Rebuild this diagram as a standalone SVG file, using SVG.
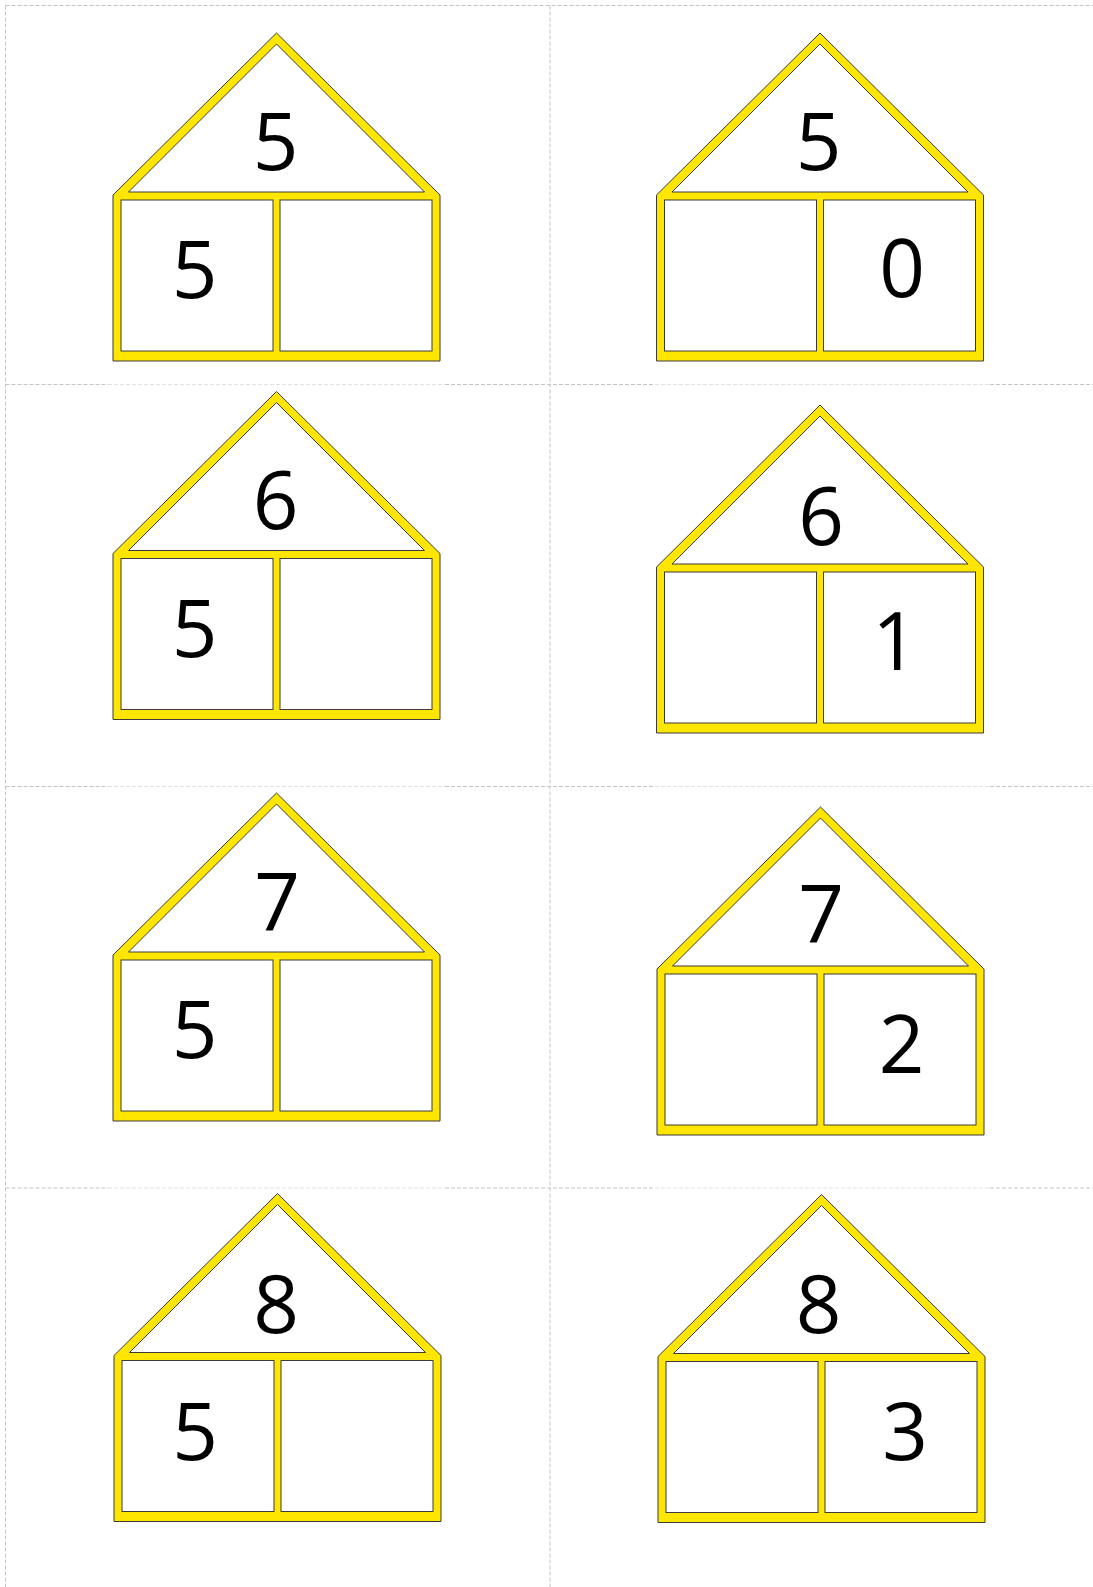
<svg xmlns="http://www.w3.org/2000/svg" xmlns:xlink="http://www.w3.org/1999/xlink" width="1093" height="1587" viewBox="0 0 1093 1587">
<style>
.grid{stroke:#c4c4c4;stroke-width:1;stroke-dasharray:4 2;fill:none}
.gridl{stroke:#e2e2e2;stroke-width:1;stroke-dasharray:4 2;fill:none}
.frame{fill:#FFE600;stroke:#3a3a3a;stroke-width:1}
.hole{fill:#ffffff;stroke:#3a3a3a;stroke-width:1}
.num{font-family:"Open Sans","DejaVu Sans",sans-serif;font-size:80px;fill:#000;text-anchor:middle}
</style>
<defs>
<g id="houseShape">
<polygon class="frame" points="0,0 163.5,162 163.5,328 -163.5,328 -163.5,162"/>
<polygon class="hole" points="0,11 148,159 -148,159"/>
<rect class="hole" x="-155.5" y="167" width="152" height="151"/>
<rect class="hole" x="3.5" y="167" width="152" height="151"/>
</g>
</defs>
<rect width="1093" height="1587" fill="#ffffff"/>
<g id="cutlines">
<line class="grid" x1="5.5" y1="5.5" x2="1093" y2="5.5"/>
<line class="grid" x1="5.5" y1="5.5" x2="5.5" y2="1587"/>
<line class="grid" x1="550" y1="5.5" x2="550" y2="1587"/>
<line class="grid" x1="5.5" y1="384.5" x2="108" y2="384.5"/>
<line class="gridl" x1="108" y1="384.5" x2="445" y2="384.5"/>
<line class="grid" x1="445" y1="384.5" x2="655" y2="384.5"/>
<line class="gridl" x1="655" y1="384.5" x2="990" y2="384.5"/>
<line class="grid" x1="990" y1="384.5" x2="1093" y2="384.5"/>
<line class="grid" x1="5.5" y1="786.5" x2="108" y2="786.5"/>
<line class="gridl" x1="108" y1="786.5" x2="445" y2="786.5"/>
<line class="grid" x1="445" y1="786.5" x2="655" y2="786.5"/>
<line class="gridl" x1="655" y1="786.5" x2="990" y2="786.5"/>
<line class="grid" x1="990" y1="786.5" x2="1093" y2="786.5"/>
<line class="grid" x1="5.5" y1="1188" x2="108" y2="1188"/>
<line class="gridl" x1="108" y1="1188" x2="445" y2="1188"/>
<line class="grid" x1="445" y1="1188" x2="655" y2="1188"/>
<line class="gridl" x1="655" y1="1188" x2="990" y2="1188"/>
<line class="grid" x1="990" y1="1188" x2="1093" y2="1188"/>
</g>
<g id="house1">
<use xlink:href="#houseShape" href="#houseShape" transform="translate(276.5,33)"/>
<text class="num" x="275.5" y="170">5</text>
<text class="num" x="194.5" y="298">5</text>
</g>
<g id="house2">
<use xlink:href="#houseShape" href="#houseShape" transform="translate(820,33)"/>
<text class="num" x="818.5" y="170">5</text>
<text class="num" x="902" y="297">0</text>
</g>
<g id="house3">
<use xlink:href="#houseShape" href="#houseShape" transform="translate(276.5,391.5)"/>
<text class="num" x="275.5" y="529">6</text>
<text class="num" x="194.5" y="657">5</text>
</g>
<g id="house4">
<use xlink:href="#houseShape" href="#houseShape" transform="translate(820,405)"/>
<text class="num" x="821" y="545">6</text>
<text class="num" x="895" y="670">1</text>
</g>
<g id="house5">
<use xlink:href="#houseShape" href="#houseShape" transform="translate(276.5,793)"/>
<text class="num" x="277" y="931">7</text>
<text class="num" x="194.5" y="1058">5</text>
</g>
<g id="house6">
<use xlink:href="#houseShape" href="#houseShape" transform="translate(820.5,807)"/>
<text class="num" x="821" y="943">7</text>
<text class="num" x="901.5" y="1073">2</text>
</g>
<g id="house7">
<use xlink:href="#houseShape" href="#houseShape" transform="translate(277.5,1193.5)"/>
<text class="num" x="276" y="1333">8</text>
<text class="num" x="195" y="1460">5</text>
</g>
<g id="house8">
<use xlink:href="#houseShape" href="#houseShape" transform="translate(821.5,1194.5)"/>
<text class="num" x="818.5" y="1333">8</text>
<text class="num" x="905" y="1460">3</text>
</g>
</svg>
